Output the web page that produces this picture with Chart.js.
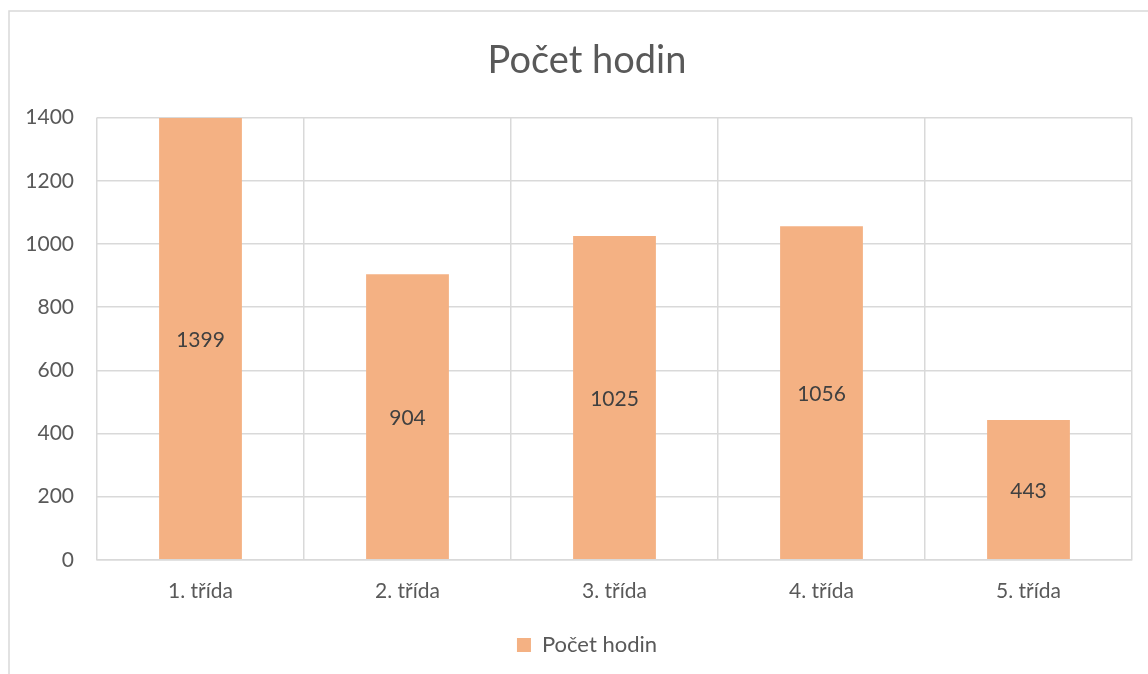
<!DOCTYPE html>
<html>
<head>
<meta charset="utf-8">
<script src="https://cdn.jsdelivr.net/npm/chart.js@4/dist/chart.umd.min.js"></script>
<style>
  body { margin: 0; background: #fff; }
  #wrap { position: absolute; left: 0; top: 0; width: 1148px; height: 674px; }
</style>
</head>
<body>
<div id="wrap"><canvas id="chart"></canvas></div>
<script>
const categories = ["1. třída", "2. třída", "3. třída", "4. třída", "5. třída"];
const hours = [1399, 904, 1025, 1056, 443];
const seriesName = "Počet hodin";
const yTicks = [0, 200, 400, 600, 800, 1000, 1200, 1400];

const FONT = "Lato, 'Open Sans', sans-serif";
const GRID = "#d9d9d9";
const TEXT = "#595959";

// outer frame of the chart object
const framePlugin = {
    id: "frame",
    beforeDraw(chart) {
        const ctx = chart.ctx;
        ctx.save();
        ctx.strokeStyle = GRID;
        ctx.lineWidth = 1.5;
        ctx.strokeRect(9, 11, 1400, 1000);
        ctx.restore();
    }
};

// title and legend are centred on the whole (wider) chart object, not the canvas
const centerShift = {
    id: "centerShift",
    afterLayout(chart) {
        [chart.titleBlock, chart.legend].forEach(box => {
            if (!box) return;
            box.left += 21;
            box.right += 21;
        });
    }
};

// values written in the middle of each bar
const valueLabels = {
    id: "valueLabels",
    afterDatasetsDraw(chart) {
        const ctx = chart.ctx;
        const meta = chart.getDatasetMeta(0);
        ctx.save();
        ctx.font = "21px " + FONT;
        ctx.fillStyle = "#404040";
        ctx.textAlign = "center";
        ctx.textBaseline = "middle";
        meta.data.forEach((bar, i) => {
            const y = (bar.y + bar.base) / 2;
            ctx.fillText(chart.data.datasets[0].data[i], bar.x, y + 2);
        });
        ctx.restore();
    }
};

new Chart(document.getElementById("chart"), {
    type: "bar",
    data: {
        labels: categories,
        datasets: [{
            label: seriesName,
            data: hours,
            backgroundColor: "#F4B183",
            borderWidth: 0,
            categoryPercentage: 1,
            barPercentage: 0.4
        }]
    },
    options: {
        responsive: true,
        maintainAspectRatio: false,
        animation: false,
        layout: { padding: { left: 0, right: 16, top: 0, bottom: 8 } },
        plugins: {
            title: {
                display: true,
                text: seriesName,
                color: TEXT,
                font: { family: FONT, size: 38, weight: "normal" },
                padding: { top: 38, bottom: 34 }
            },
            legend: {
                position: "bottom",
                labels: {
                    color: TEXT,
                    font: { family: FONT, size: 22 },
                    boxWidth: 14,
                    boxHeight: 14,
                    padding: 11
                }
            },
            tooltip: { enabled: false }
        },
        scales: {
            x: {
                grid: { color: GRID, lineWidth: 1.5, offset: true, drawTicks: false },
                border: { color: GRID, width: 1.5 },
                ticks: { color: TEXT, font: { family: FONT, size: 21 }, padding: 19 }
            },
            y: {
                min: 0,
                max: 1400,
                afterBuildTicks: scale => { scale.ticks = yTicks.map(v => ({ value: v })); },
                afterFit: scale => { scale.width = 97; },
                grid: { color: GRID, lineWidth: 1.5, drawTicks: false },
                border: { display: false },
                ticks: {
                    color: TEXT,
                    font: { family: FONT, size: 21 },
                    padding: 23,
                    callback: v => String(v)
                }
            }
        }
    },
    plugins: [framePlugin, centerShift, valueLabels]
});
</script>
</body>
</html>
